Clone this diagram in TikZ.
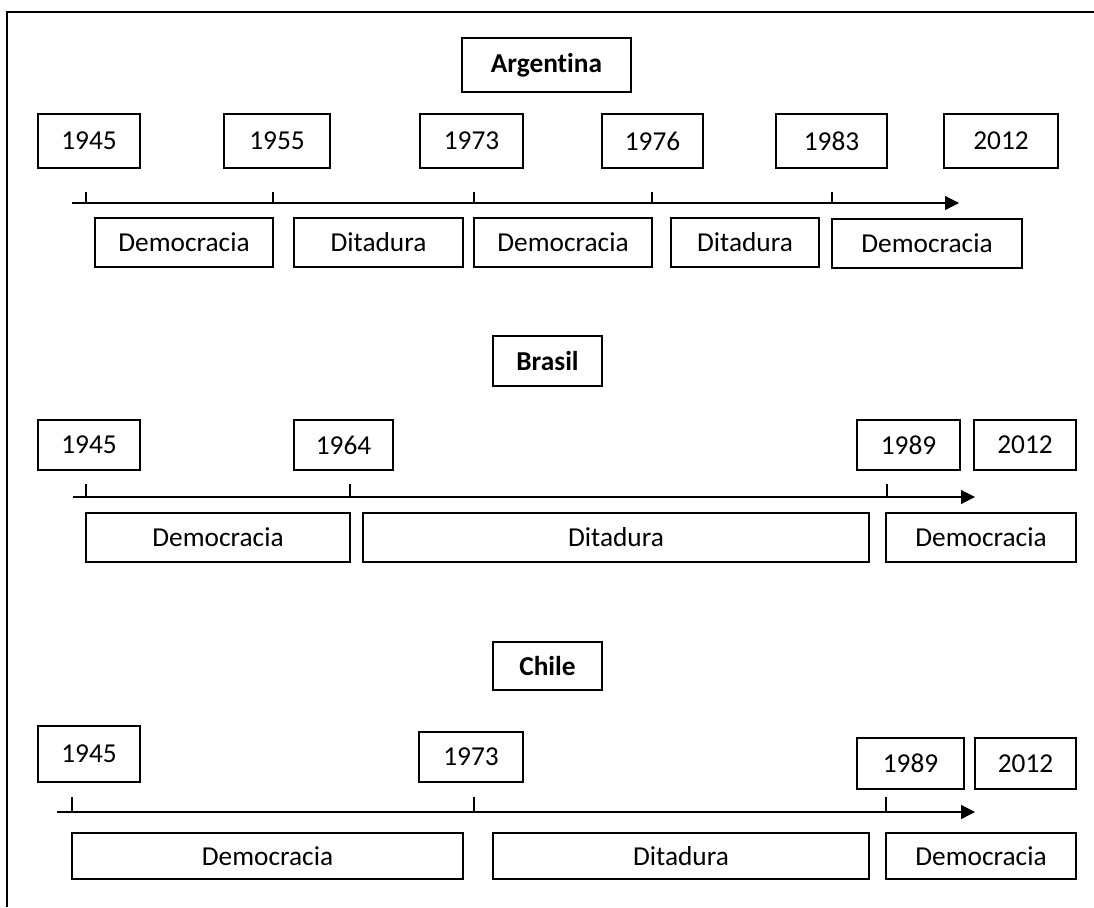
\documentclass[tikz,border=0pt]{standalone}
\usepackage{fontspec}
\setmainfont{Carlito}[Ligatures=NoCommon]
\usetikzlibrary{arrows.meta}
\tikzset{   titlebox/.style = {rectangle, draw, line width=0.9pt, inner sep=0pt, font=\fontsize{20.5}{24}\selectfont\bfseries},
            yearbox/.style = {rectangle, draw, line width=0.9pt, inner sep=0pt, minimum height=40.5pt},
            periodbox/.style = {rectangle, draw, line width=0.9pt, inner sep=0pt, minimum height=36.75pt},
            axis/.style = {line width=0.9pt, -{Triangle[length=10.5pt,width=10.5pt]}},
            tick/.style = {line width=0.9pt}}

\begin{document}
\begin{tikzpicture}[x=0.75pt, y=-0.75pt, every node/.style={font=\fontsize{20.5}{24}\selectfont}]
                        \useasboundingbox (0,0) rectangle (1094,907);
                        \draw[line width=0.9pt] (7,907) -- (7,12) -- (1094,12);

                        % Argentina
                        \node[titlebox, minimum width=126.75pt, minimum height=40.5pt] (arg) at (546.5,65) {Argentina};
                        \node[yearbox, minimum width=76.5pt] (arg45) at (89,141) {1945};
                        \node[yearbox, minimum width=79.5pt] (arg55) at (277,141) {1955};
                        \node[yearbox, minimum width=77.25pt] (arg73) at (471.5,141) {1973};
                        \node[yearbox, minimum width=75.75pt] (arg76) at (652.5,141) {1976};
                        \node[yearbox, minimum width=83.25pt] (arg83) at (831.5,141) {1983};
                        \node[yearbox, minimum width=85.5pt] (arg12) at (1001,141) {2012};
                        \coordinate (argstart) at (72,203);
                        \coordinate (argend) at (959,203);
                        \draw[axis] (argstart) -- (argend);
                        \foreach \x in {86,273,474,652,832}
                          \draw[tick] (\x,192) -- (\x,203);
                        \node[periodbox, minimum width=133.5pt] (argdem1) at (184,242.5) {Democracia};
                        \node[periodbox, minimum width=126.75pt] (argdit1) at (378.5,242.5) {Ditadura};
                        \node[periodbox, minimum width=133.5pt] (argdem2) at (563,242.5) {Democracia};
                        \node[periodbox, minimum width=111pt] (argdit2) at (745,242.5) {Ditadura};
                        \node[periodbox, minimum width=142.5pt] (argdem3) at (927,243.5) {Democracia};

                        % Brasil
                        \node[titlebox, minimum width=81.75pt, minimum height=37.5pt] (bra) at (547.5,361) {Brasil};
                        \node[yearbox, minimum width=76.5pt, minimum height=37.5pt] (bra45) at (89,445) {1945};
                        \node[yearbox, minimum width=74.25pt, minimum height=37.5pt] (bra64) at (343.5,445) {1964};
                        \node[yearbox, minimum width=77.25pt, minimum height=37.5pt] (bra89) at (908.5,445) {1989};
                        \node[yearbox, minimum width=76.5pt, minimum height=37.5pt] (bra12) at (1025,445) {2012};
                        \coordinate (brastart) at (73,497);
                        \coordinate (braend) at (975,497);
                        \draw[axis] (brastart) -- (braend);
                        \foreach \x in {86,350,887}
                          \draw[tick] (\x,484) -- (\x,497);
                        \node[periodbox, minimum width=198pt] (bradem1) at (218,537.5) {Democracia};
                        \node[periodbox, minimum width=379.5pt] (bradit1) at (616,537.5) {Ditadura};
                        \node[periodbox, minimum width=142.5pt] (bradem2) at (981,537.5) {Democracia};

                        % Chile
                        \node[titlebox, minimum width=81.75pt, minimum height=36pt] (chi) at (547.5,666) {Chile};
                        \node[yearbox, minimum width=76.5pt, minimum height=42pt] (chi45) at (89,754) {1945};
                        \node[yearbox, minimum width=78pt, minimum height=37.5pt] (chi73) at (471,757) {1973};
                        \node[yearbox, minimum width=80.25pt, minimum height=38.25pt] (chi89) at (910.5,763.5) {1989};
                        \node[yearbox, minimum width=75.75pt, minimum height=38.25pt] (chi12) at (1025.5,763.5) {2012};
                        \coordinate (chistart) at (57,812);
                        \coordinate (chiend) at (975,812);
                        \draw[axis] (chistart) -- (chiend);
                        \foreach \x in {72,474,886}
                          \draw[tick] (\x,797) -- (\x,812);
                        \node[periodbox, minimum width=293.25pt, minimum height=34.5pt] (chidem1) at (267.5,856) {Democracia};
                        \node[periodbox, minimum width=282pt, minimum height=34.5pt] (chidit1) at (681,856) {Ditadura};
                        \node[periodbox, minimum width=142.5pt, minimum height=34.5pt] (chidem2) at (981,856) {Democracia};
\end{tikzpicture}
\end{document}
